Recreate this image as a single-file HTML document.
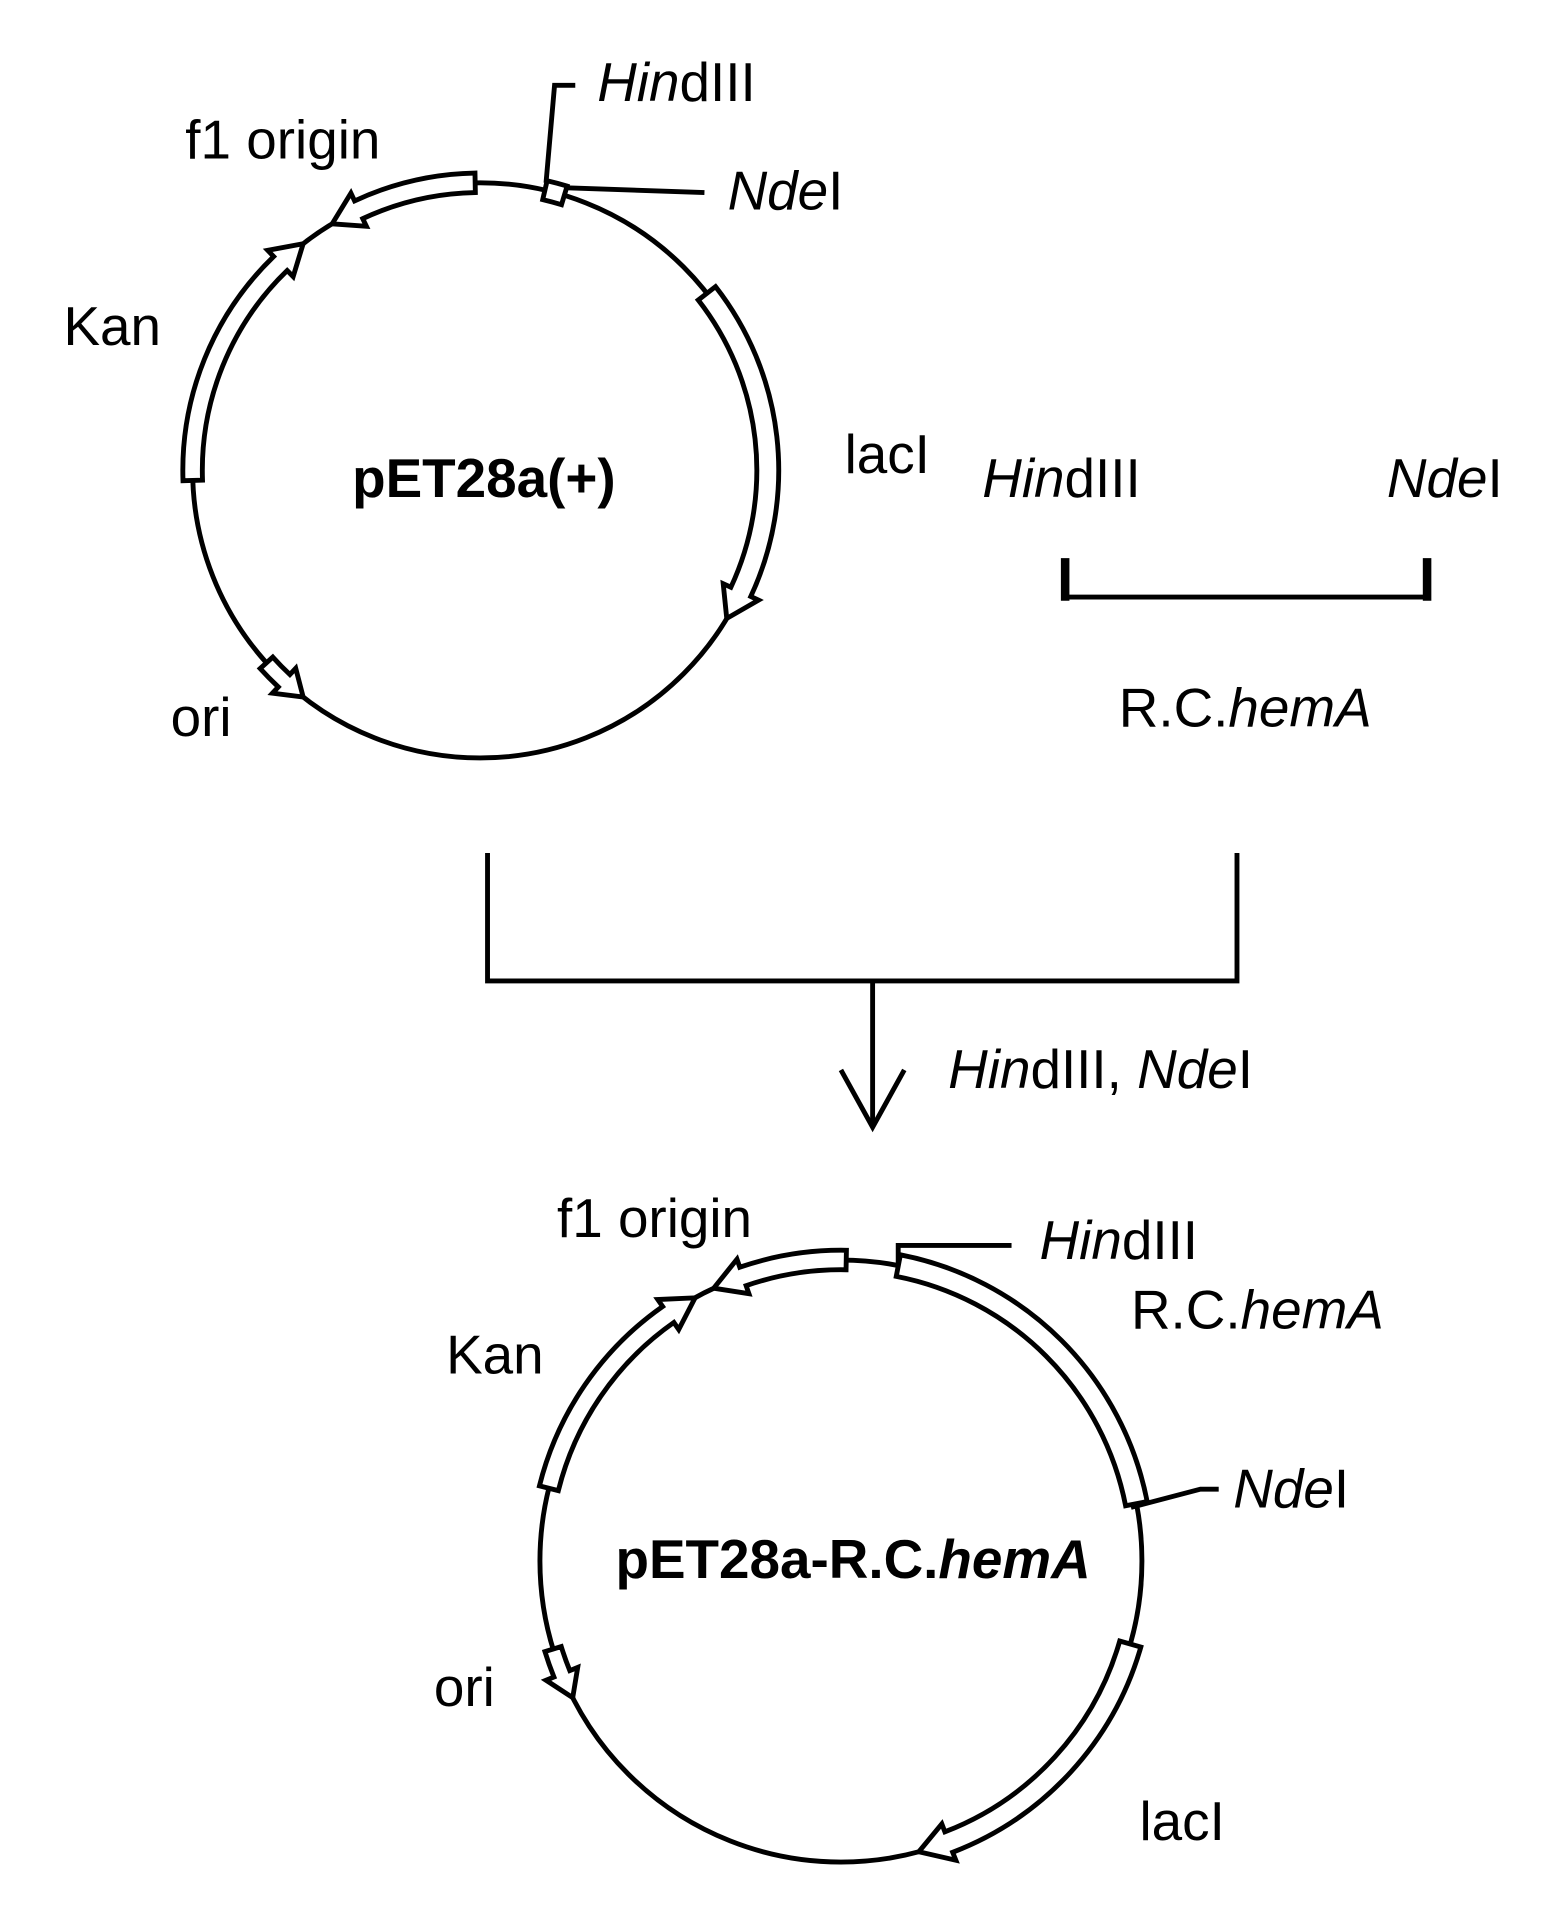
<!DOCTYPE html>
<html><head><meta charset="utf-8"><style>
html,body{margin:0;padding:0;background:#fff}
svg{display:block}
text{font-family:"Liberation Sans",Arial,sans-serif;font-size:45px;fill:#000}
</style></head><body>
<svg id="s" width="1560" height="1912" viewBox="0 0 1280 1569" xmlns="http://www.w3.org/2000/svg">
<g fill="none" stroke="#000" stroke-width="4" stroke-linejoin="miter">
<circle cx="394" cy="386" r="236"/>
<circle cx="690" cy="1281" r="247"/>
<polyline points="448,150 455,70 472,70"/>
<polyline points="462,154 578,158"/>
<line x1="872" y1="490" x2="1173" y2="490"/>
<line x1="874" y1="458" x2="874" y2="493" stroke-width="7"/>
<line x1="1171" y1="458" x2="1171" y2="493" stroke-width="7"/>
<polyline points="400,700 400,805 1015,805 1015,700"/>
<line x1="716" y1="805" x2="716" y2="922"/>
<polyline points="690,878 716,925 742,878"/>
<polyline points="737,1040 737,1022 830,1022"/>
<polyline points="928,1237 985,1222 1000,1222"/>
</g>
<g id="bands" fill="#fff" stroke="#000" stroke-width="4"></g>
<text x="490" y="83"><tspan font-style="italic">Hin</tspan>dIII</text>
<text x="597" y="172"><tspan font-style="italic">Nde</tspan>I</text>
<text x="152" y="130">f1 origin</text>
<text x="52" y="283">Kan</text>
<text x="693" y="388">lacI</text>
<text x="397" y="408" text-anchor="middle" font-weight="bold">pET28a(+)</text>
<text x="140" y="604">ori</text>
<text x="806" y="408"><tspan font-style="italic">Hin</tspan>dIII</text>
<text x="1138" y="408"><tspan font-style="italic">Nde</tspan>I</text>
<text x="918" y="596">R.C.<tspan font-style="italic">hemA</tspan></text>
<text x="778" y="893"><tspan font-style="italic">Hin</tspan>dIII, <tspan font-style="italic">Nde</tspan>I</text>
<text x="457" y="1015">f1 origin</text>
<text x="853" y="1033"><tspan font-style="italic">Hin</tspan>dIII</text>
<text x="928" y="1090">R.C.<tspan font-style="italic">hemA</tspan></text>
<text x="366" y="1127">Kan</text>
<text x="1012" y="1237"><tspan font-style="italic">Nde</tspan>I</text>
<text x="700" y="1295" text-anchor="middle" font-weight="bold">pET28a-R.C.<tspan font-style="italic">hemA</tspan></text>
<text x="356" y="1400">ori</text>
<text x="935" y="1510">lacI</text>
</svg>
<script>
function P(cx,cy,r,a){var t=a*Math.PI/180;return [cx+r*Math.sin(t),cy-r*Math.cos(t)];}
function f(p){return p[0].toFixed(1)+","+p[1].toFixed(1);}
function band(cx,cy,r,a1,a2,arrow,w,hl){
  w=w||8;var dir=a2>a1?1:-1;
  var hd=arrow?(hl||6):0; var ab=a2-dir*hd;
  var ro=r+w, ri=r-w;
  var sw1=(dir>0)?1:0;
  var large=(Math.abs(ab-a1)>180)?1:0;
  var d="M"+f(P(cx,cy,ro,a1))+" A"+ro+","+ro+" 0 "+large+" "+sw1+" "+f(P(cx,cy,ro,ab));
  if(arrow){d+=" L"+f(P(cx,cy,ro+7,ab))+" L"+f(P(cx,cy,r,a2))+" L"+f(P(cx,cy,ri-7,ab))+" L"+f(P(cx,cy,ri,ab));}
  else d+=" L"+f(P(cx,cy,ri,ab));
  d+=" A"+ri+","+ri+" 0 "+large+" "+(1-sw1)+" "+f(P(cx,cy,ri,a1))+" Z";
  var p=document.createElementNS("http://www.w3.org/2000/svg","path");p.setAttribute("d",d);
  document.getElementById("bands").appendChild(p);
}
band(394,386,236,-1,-31,true,8,6);
band(394,386,236,-92,-38,true,8,6);
band(394,386,236,52,121,true,9,6);
band(394,386,236,228,218,true,7,5);
band(394,386,236,13,17,false,8);
band(690,1281,247,1,-25,true,8,6);
band(690,1281,247,-76,-29,true,8,6);
band(690,1281,247,11,79,false,9);
band(690,1281,247,106,165,true,9,6);
band(690,1281,247,253,243,true,7,5);
</script>
</body></html>
